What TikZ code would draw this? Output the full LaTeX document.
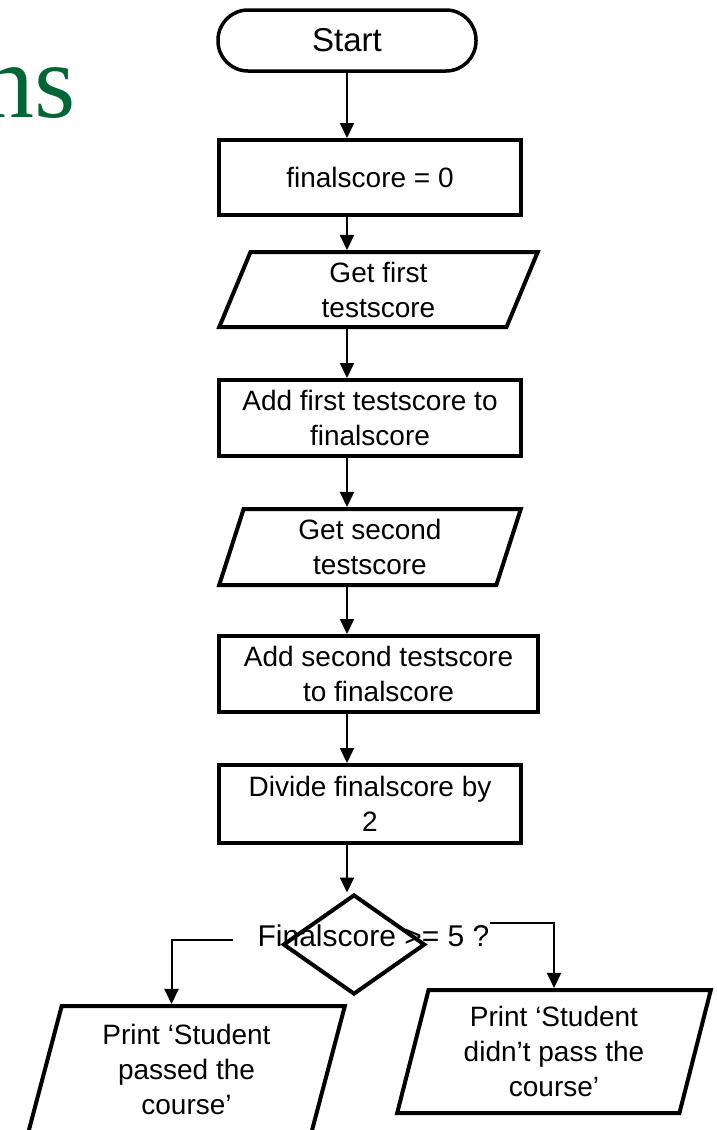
\documentclass[tikz,border=0pt]{standalone}
\usepackage{fontspec}
\setmainfont{Liberation Sans}
\newfontfamily\titlefont{Liberation Serif}
\usetikzlibrary{arrows.meta}
\usetikzlibrary{shapes.geometric}
\usetikzlibrary{calc}
\definecolor{titlegreen}{RGB}{0,102,51}
\tikzset{t/.style={font=\fontsize{28}{35}\selectfont}}
\tikzset{blk/.style={draw,line width=4pt,align=center,inner sep=0pt}}
\tikzset{io/.style={draw,line width=4pt,align=center,inner sep=0pt,trapezium,
  trapezium left angle=76,trapezium right angle=104,trapezium stretches=true}}
\tikzset{ln/.style={line width=2pt,-{Triangle[width=14pt,length=15pt]}}}

\begin{document}
\begin{tikzpicture}[x=1pt,y=-1pt]
        \useasboundingbox (0,0) rectangle (716,1130);
        \node[anchor=base east,text=titlegreen,font=\titlefont\fontsize{106}{106}\selectfont] (ttl) at (79,117) {ns};
        \begin{scope}[t]
          \node[draw,line width=3.5pt,rounded corners=30pt,minimum width=258pt,minimum height=61pt,font=\fontsize{33}{33}\selectfont] (start) at (347,40.5) {Start};
          \node[blk,minimum width=302pt,minimum height=75pt] (b1) at (370,177.5) {finalscore = 0};
          \node[io,minimum width=319pt,minimum height=75pt] (p1) at (378.5,289.5) {Get first\\testscore};
          \node[blk,minimum width=302pt,minimum height=76pt] (b2) at (370,418) {Add first testscore to\\finalscore};
          \node[io,minimum width=302pt,minimum height=76pt] (p2) at (370,547) {Get second\\testscore};
          \node[blk,minimum width=319pt,minimum height=76pt] (b3) at (378.5,674) {Add second testscore\\to finalscore};
          \node[blk,minimum width=302pt,minimum height=78pt] (b4) at (370,804) {Divide finalscore by\\2};
          \node[draw,line width=4pt,diamond,inner sep=0pt,minimum width=142pt,minimum height=100pt] (d) at (354,944.5) {};
          \node[inner sep=0pt,font=\fontsize{30}{30}\selectfont] (q) at (373.5,936) {Finalscore >= 5 ?};
          \node[io,minimum width=317pt,minimum height=127pt] (pass) at (186.5,1069.5) {Print ‘Student\\passed the\\course’};
          \node[io,minimum width=314pt,minimum height=123pt] (fail) at (554,1051.5) {Print ‘Student\\didn’t pass the\\course’};
        \end{scope}
        \draw[ln] (start) -- (start |- b1.north);
        \draw[ln] (b1.south -| start) -- (p1.north -| start);
        \draw[ln] (p1.south -| start) -- (b2.north -| start);
        \draw[ln] (b2.south -| start) -- (p2.north -| start);
        \draw[ln] (p2.south -| start) -- (b3.north -| start);
        \draw[ln] (b3.south -| start) -- (b4.north -| start);
        \draw[ln] (b4.south -| start) -- (d.north -| start);
        \draw[ln] ([xshift=-24pt,yshift=-4pt]q.west) -| ([xshift=-15pt]pass.north);
        \draw[ln] ([yshift=13pt]q.east) -| (fail.north);
      \end{tikzpicture}
\end{document}
